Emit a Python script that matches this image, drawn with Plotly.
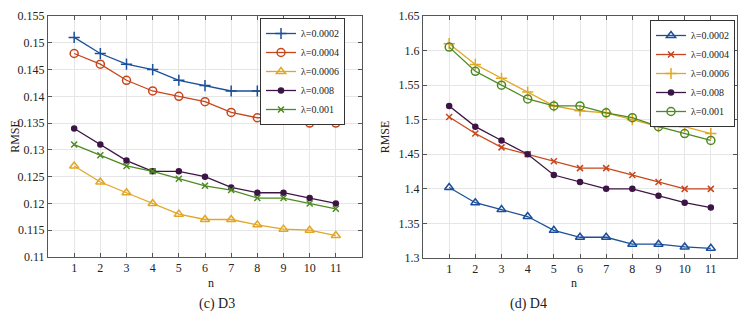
import plotly.graph_objects as go

n = list(range(1, 12))
labels = ["λ=0.0002", "λ=0.0004", "λ=0.0006", "λ=0.008", "λ=0.001"]

d3_l0002 = [0.151, 0.148, 0.146, 0.145, 0.143, 0.142, 0.141, 0.141, 0.140, 0.139, 0.138]
d3_l0004 = [0.148, 0.146, 0.143, 0.141, 0.140, 0.139, 0.137, 0.136, 0.136, 0.135, 0.135]
d3_l0006 = [0.127, 0.124, 0.122, 0.120, 0.118, 0.117, 0.117, 0.116, 0.1152, 0.115, 0.114]
d3_l008 = [0.134, 0.131, 0.128, 0.126, 0.126, 0.125, 0.123, 0.122, 0.122, 0.121, 0.120]
d3_l001 = [0.131, 0.129, 0.127, 0.126, 0.1246, 0.1233, 0.1225, 0.121, 0.121, 0.120, 0.119]

d4_l0002 = [1.402, 1.38, 1.37, 1.36, 1.34, 1.33, 1.33, 1.32, 1.32, 1.316, 1.314]
d4_l0004 = [1.504, 1.48, 1.46, 1.45, 1.44, 1.43, 1.43, 1.42, 1.41, 1.40, 1.40]
d4_l0006 = [1.61, 1.58, 1.56, 1.54, 1.52, 1.513, 1.51, 1.50, 1.49, 1.49, 1.48]
d4_l008 = [1.52, 1.49, 1.47, 1.45, 1.42, 1.41, 1.40, 1.40, 1.39, 1.38, 1.373]
d4_l001 = [1.605, 1.57, 1.55, 1.53, 1.52, 1.52, 1.51, 1.503, 1.49, 1.48, 1.47]

colors = ["#1b4f9c", "#c8461b", "#e3a624", "#3c1546", "#4e8a22"]
FONT = "Liberation Serif, Times New Roman, Times, serif"

d3_series = [d3_l0002, d3_l0004, d3_l0006, d3_l008, d3_l001]
d3_symbols = ["cross-thin", "circle-open", "triangle-up-open", "circle", "x-thin"]
d3_sizes = [8, 8, 8, 5, 6]

d4_series = [d4_l0002, d4_l0004, d4_l0006, d4_l008, d4_l001]
d4_symbols = ["triangle-up-open", "x-thin", "cross-thin", "circle", "circle-open"]
d4_sizes = [8, 6, 8, 5, 8]

# page body has an 8px default margin; size the figure so it fits the window
OFF = 8
W, H = 746 - OFF, 313 - OFF


def fx(sx):
    return (sx - OFF) / W


def fy(sy):
    return 1 - (sy - OFF) / H


fig = go.Figure()
for i in range(5):
    fig.add_trace(go.Scatter(
        x=n, y=d3_series[i], name=labels[i], mode="lines+markers",
        line=dict(color=colors[i], width=1.3),
        marker=dict(symbol=d3_symbols[i], size=d3_sizes[i], color=colors[i],
                    line=dict(color=colors[i], width=1.5)),
        xaxis="x", yaxis="y", legend="legend"))
for i in range(5):
    fig.add_trace(go.Scatter(
        x=n, y=d4_series[i], name=labels[i], mode="lines+markers",
        line=dict(color=colors[i], width=1.3),
        marker=dict(symbol=d4_symbols[i], size=d4_sizes[i], color=colors[i],
                    line=dict(color=colors[i], width=1.5)),
        xaxis="x2", yaxis="y2", legend="legend2"))

axis_common = dict(showline=True, linecolor="#555555", linewidth=1, mirror="ticks",
                   ticks="inside", ticklen=4, tickcolor="#555555", automargin=False,
                   ticklabeloverflow="allow",
                   showgrid=True, gridcolor="#e6e6e6", gridwidth=1, zeroline=False,
                   tickfont=dict(family=FONT, size=12, color="#222222"))

leg_common = dict(xanchor="left", yanchor="top", bgcolor="white",
                  bordercolor="#333333", borderwidth=1, font=dict(family=FONT, size=10),
                  tracegroupgap=0, itemwidth=30)

TOP = 16

fig.update_layout(
    width=W, height=H, autosize=False,
    margin=dict(l=0, r=0, t=0, b=0, pad=0, autoexpand=False),
    paper_bgcolor="white", plot_bgcolor="white",
    font=dict(family=FONT, size=12, color="#222222"),
    xaxis=dict(domain=[fx(48), fx(362)], range=[0, 12], tickvals=n, anchor="y", **axis_common),
    yaxis=dict(domain=[fy(257), fy(TOP)], range=[0.11, 0.155], dtick=0.005, anchor="x",
               title=dict(text="RMSE", standoff=6, font=dict(family=FONT, size=12)), **axis_common),
    xaxis2=dict(domain=[fx(423), fx(737)], range=[0, 12], tickvals=n, anchor="y2", **axis_common),
    yaxis2=dict(domain=[fy(258), fy(TOP)], range=[1.3, 1.65], dtick=0.05, anchor="x2",
                title=dict(text="RMSE", standoff=6, font=dict(family=FONT, size=12)), **axis_common),
    legend=dict(x=fx(260), y=fy(18), **leg_common),
    legend2=dict(x=fx(650), y=fy(20), **leg_common),
    showlegend=True,
    annotations=[
        dict(text="n", x=fx(206), y=fy(283), xref="paper", yref="paper", showarrow=False,
             yanchor="middle", font=dict(family=FONT, size=12)),
        dict(text="(c) D3", x=fx(197), y=fy(304), xref="paper", yref="paper", showarrow=False,
             yanchor="middle", font=dict(family=FONT, size=14)),
        dict(text="n", x=fx(579), y=fy(283), xref="paper", yref="paper", showarrow=False,
             yanchor="middle", font=dict(family=FONT, size=12)),
        dict(text="(d) D4", x=fx(549), y=fy(304), xref="paper", yref="paper", showarrow=False,
             yanchor="middle", font=dict(family=FONT, size=14)),
    ],
)

fig.write_html("out.html")
